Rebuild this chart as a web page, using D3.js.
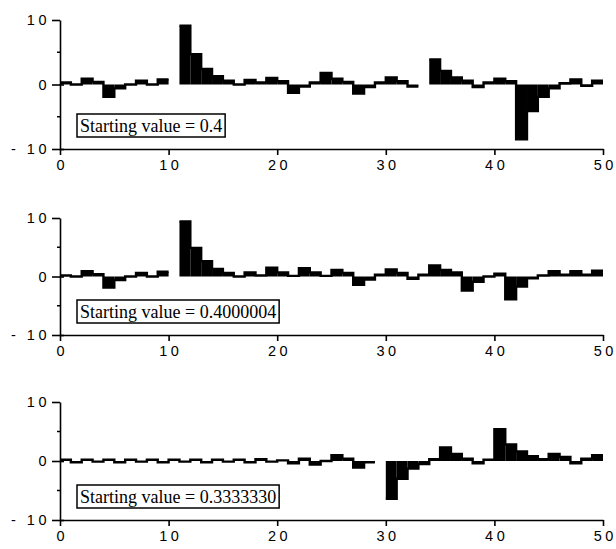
<!DOCTYPE html>
<html>
<head>
<meta charset="utf-8">
<script src="https://cdn.jsdelivr.net/npm/d3@7"></script>
<style>
  body { margin: 0; background: #fff; }
  svg { display: block; }
</style>
</head>
<body>
<div id="chart"></div>
<script>
// bar values for steps 0..49 (null = gap)
var series1 = [0.3, 0, 0.9, 0.4, -1.9, -0.6, 0, 0.6, 0, 0.8,
  null, 9.1, 4.7, 2.4, 1.3, 0.6, 0, 0.7, 0.3, 1.0,
  0.5, -1.3, -0.3, 0.3, 1.8, 0.9, 0.4, -1.4, -0.4, 0.3,
  1.1, 0.5, -0.3, null, 3.9, 2.1, 1.1, 0.6, -0.4, 0.3,
  0.9, 0.5, -8.5, -4.1, -1.9, -0.6, 0.2, 0.8, -0.2, 0.6]
var series2 = [0.2, 0, 0.9, 0.4, -1.9, -0.6, 0, 0.6, 0, 0.8,
  null, 9.4, 4.9, 2.6, 1.3, 0.6, 0, 0.7, 0.2, 1.5,
  0.7, 0.1, 1.4, 0.7, 0.1, 1.1, 0.6, -1.4, -0.5, 0.3,
  1.2, 0.6, -0.4, 0.3, 1.9, 1.1, 0.7, -2.4, -0.9, 0,
  0.5, -3.9, -1.7, -0.3, 0.2, 0.9, 0.3, 0.9, 0.3, 1.0]
var series3 = [0.2, -0.2, 0.2, -0.1, 0.2, -0.2, 0.2, -0.1, 0.2, -0.2,
  0.2, -0.1, 0.2, -0.2, 0.2, -0.1, 0.2, -0.2, 0.3, -0.1,
  0.1, -0.4, 0.4, -0.6, 0, 1.0, 0.4, -1.1, -0.2, null,
  -6.4, -3.0, -1.3, -0.5, 0.3, 2.3, 1.2, 0.4, -0.4, 0.2,
  5.4, 2.8, 1.6, 0.8, 0.3, 1.2, 0.7, -0.4, 0.4, 1.0]
var labels = ['Starting value = 0.4', 'Starting value = 0.4000004', 'Starting value = 0.3333330']
var xTicks = [0, 10, 20, 30, 40, 50]
var yTicks = [-10, 0, 10]
var yMinor = [-5, 5]

var width = 616
var height = 549

var svg = d3
  .select('#chart')
  .append('svg')
  .attr('width', width)
  .attr('height', height)

var x = d3.scaleLinear().domain([0, 50]).range([60, 603])

// vertical extent of each panel: [y(10), y(-10)]
var panels = [
  { data: series1, label: labels[0], top: 20, bottom: 149 },
  { data: series2, label: labels[1], top: 218, bottom: 335 },
  { data: series3, label: labels[2], top: 402, bottom: 520 }
]

var LS = 3.5

panels.forEach(p => {
  var y = d3.scaleLinear().domain([-10, 10]).range([p.bottom, p.top])
  var g = svg.append('g')

  var bars = p.data
    .map((v, i) => ({ i: i, v: v }))
    .filter(d => d.v !== null)

  // filled bars
  g.selectAll('rect.bar')
    .data(bars)
    .enter()
    .append('rect')
    .attr('class', 'bar')
    .attr('x', d => x(d.i))
    .attr('width', d => x(d.i + 1) - x(d.i))
    .attr('y', d => Math.min(y(0), y(d.v)))
    .attr('height', d => Math.abs(y(d.v) - y(0)))
    .attr('fill', '#000')

  // step outline of the bars
  var pts = []
  p.data.forEach((v, i) => {
    pts.push({ i: i, v: v })
    pts.push({ i: i + 1, v: v })
  })
  g.append('path')
    .datum(pts)
    .attr('fill', 'none')
    .attr('stroke', '#000')
    .attr('stroke-width', 2.4)
    .attr('d', d3.line()
      .defined(d => d.v !== null)
      .x(d => x(d.i))
      .y(d => y(d.v)))

  // left axis
  var ya = g.append('g')
    .attr('transform', 'translate(' + x(0) + ',0)')
    .call(d3.axisLeft(y).tickValues(yTicks).tickSize(8).tickSizeOuter(0).tickPadding(2))
  ya.select('.domain').attr('stroke-width', 1.6)
  ya.selectAll('.tick line').attr('stroke-width', 1.6)
    .attr('x1', d => (d === 10 ? 0 : 4))
  ya.selectAll('.tick text')
    .attr('font-family', '"Liberation Sans", Arial, sans-serif')
    .attr('font-size', 14.5)
    .attr('letter-spacing', LS + 'px')
    .attr('fill', '#000')
    .text(d => (d < 0 ? '- ' + Math.abs(d) : d))

  yMinor.forEach(v => {
    g.append('line')
      .attr('x1', x(0) - 3)
      .attr('x2', x(0))
      .attr('y1', y(v))
      .attr('y2', y(v))
      .attr('stroke', '#000')
      .attr('stroke-width', 1.5)
  })

  // bottom axis
  var xa = g.append('g')
    .attr('transform', 'translate(0,' + y(-10) + ')')
    .call(d3.axisBottom(x).tickValues(xTicks).tickSize(6).tickSizeOuter(0).tickPadding(5))
  xa.select('.domain').attr('stroke-width', 1.6)
  xa.selectAll('.tick line').attr('stroke-width', 1.6)
  xa.selectAll('.tick text')
    .attr('font-family', '"Liberation Sans", Arial, sans-serif')
    .attr('font-size', 14.5)
    .attr('letter-spacing', LS + 'px')
    .attr('dx', LS / 2)
    .attr('fill', '#000')

  // boxed label
  var lab = g.append('g')
  var t = lab.append('text')
    .attr('x', 80)
    .attr('y', p.bottom - 17)
    .attr('font-family', '"Liberation Serif", "Times New Roman", serif')
    .attr('font-size', 18)
    .attr('fill', '#000')
    .text(p.label)
  var bb = t.node().getBBox()
  lab.insert('rect', 'text')
    .attr('x', bb.x - 3)
    .attr('y', p.bottom - 35)
    .attr('width', bb.width + 6)
    .attr('height', 23)
    .attr('fill', '#fff')
    .attr('stroke', '#000')
    .attr('stroke-width', 1.5)
})
</script>
</body>
</html>
